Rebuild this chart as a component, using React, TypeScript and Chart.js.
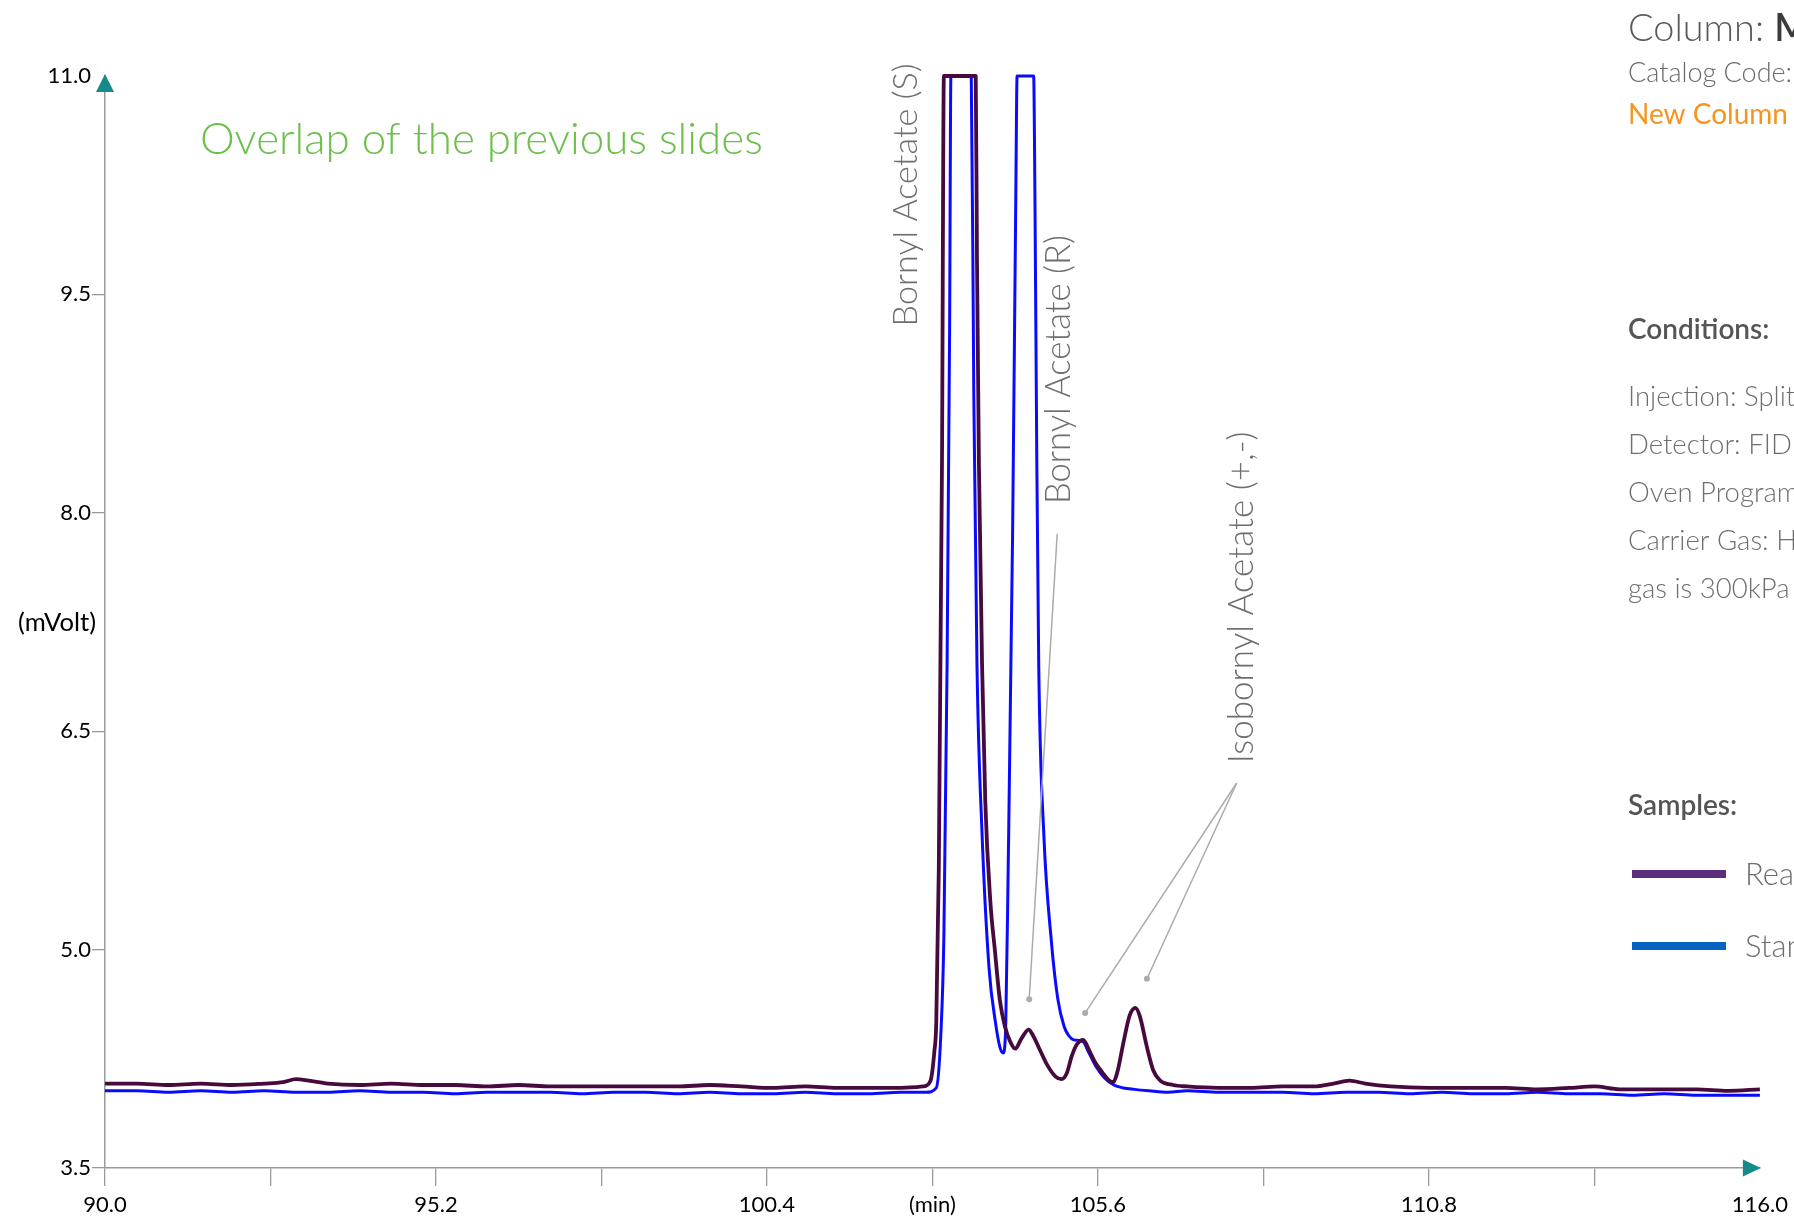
import React, { useEffect, useRef } from "react";
import { Chart, registerables } from "chart.js";

Chart.register(...registerables);

// ---- Data ----
const realTime = [90.0, 90.5, 91.0, 91.5, 92.0, 92.5, 92.8, 93.0, 93.2, 93.5, 94.0, 94.5, 95.0, 95.5, 96.0, 96.5, 97.0, 97.5, 98.0, 98.5, 99.0, 99.5, 100.0, 100.5, 101.0, 101.5, 102.0, 102.5, 102.85, 102.97, 103.03, 103.06, 103.10, 103.15, 103.18, 103.68, 103.70, 103.73, 103.78, 103.83, 103.91, 103.98, 104.06, 104.14, 104.22, 104.30, 104.40, 104.51, 104.58, 104.70, 104.80, 104.93, 105.03, 105.11, 105.19, 105.27, 105.37, 105.45, 105.55, 105.68, 105.78, 105.84, 105.90, 106.0, 106.10, 106.19, 106.26, 106.37, 106.47, 106.58, 106.78, 107.0, 107.5, 108.0, 108.5, 109.0, 109.3, 109.55, 109.8, 110.2, 110.8, 111.5, 112.0, 112.5, 113.0, 113.4, 113.8, 114.5, 115.0, 115.5, 116.0];
const realSignal = [4.08, 4.08, 4.07, 4.08, 4.07, 4.08, 4.09, 4.11, 4.10, 4.08, 4.07, 4.08, 4.07, 4.07, 4.06, 4.07, 4.06, 4.06, 4.06, 4.06, 4.06, 4.07, 4.06, 4.05, 4.06, 4.05, 4.05, 4.05, 4.06, 4.10, 4.30, 4.50, 5.56, 8.34, 11.0, 11.0, 9.73, 8.34, 6.95, 6.02, 5.33, 5.0, 4.65, 4.47, 4.37, 4.32, 4.39, 4.45, 4.41, 4.30, 4.21, 4.13, 4.11, 4.15, 4.27, 4.35, 4.38, 4.32, 4.23, 4.15, 4.10, 4.09, 4.15, 4.36, 4.55, 4.60, 4.54, 4.33, 4.17, 4.10, 4.07, 4.06, 4.05, 4.05, 4.06, 4.06, 4.08, 4.10, 4.08, 4.06, 4.05, 4.05, 4.05, 4.04, 4.05, 4.06, 4.04, 4.04, 4.04, 4.03, 4.04];

const stdTime = [90.0, 90.5, 91.0, 91.5, 92.0, 92.5, 93.0, 93.5, 94.0, 94.5, 95.0, 95.5, 96.0, 96.5, 97.0, 97.5, 98.0, 98.5, 99.0, 99.5, 100.0, 100.5, 101.0, 101.5, 102.0, 102.5, 102.9, 103.06, 103.13, 103.18, 103.23, 103.27, 103.29, 103.61, 103.65, 103.70, 103.78, 103.89, 103.99, 104.06, 104.11, 104.15, 104.19, 104.26, 104.31, 104.33, 104.59, 104.61, 104.64, 104.67, 104.75, 104.87, 104.97, 105.07, 105.14, 105.22, 105.36, 105.46, 105.58, 105.70, 105.85, 106.0, 106.17, 106.4, 106.7, 107.0, 107.5, 108.0, 108.5, 109.0, 109.5, 110.0, 110.5, 111.0, 111.5, 112.0, 112.5, 113.0, 113.5, 114.0, 114.5, 115.0, 115.5, 116.0];
const stdSignal = [4.03, 4.03, 4.02, 4.03, 4.02, 4.03, 4.02, 4.02, 4.03, 4.02, 4.02, 4.01, 4.02, 4.02, 4.02, 4.01, 4.02, 4.02, 4.01, 4.02, 4.01, 4.01, 4.02, 4.01, 4.01, 4.02, 4.02, 4.05, 4.40, 5.10, 6.95, 9.27, 11.0, 11.0, 8.80, 6.95, 5.79, 4.87, 4.50, 4.33, 4.29, 4.45, 5.56, 7.88, 10.19, 11.0, 11.0, 10.19, 8.34, 6.95, 5.79, 5.05, 4.66, 4.47, 4.41, 4.38, 4.37, 4.29, 4.19, 4.12, 4.07, 4.05, 4.04, 4.03, 4.02, 4.03, 4.02, 4.02, 4.02, 4.01, 4.02, 4.02, 4.01, 4.02, 4.01, 4.01, 4.02, 4.01, 4.01, 4.00, 4.01, 4.00, 4.00, 4.00];

const xTickValues = [90.0, 92.6, 95.2, 97.8, 100.4, 103.0, 105.6, 108.2, 110.8, 113.4, 116.0];
const xTickLabels = ["90.0", "", "95.2", "", "100.4", "(min)", "105.6", "", "110.8", "", "116.0"];
const yTickValues = [3.5, 5.0, 6.5, 8.0, 9.5, 11.0];
const yTickLabels = ["3.5", "5.0", "6.5", "8.0", "9.5", "11.0"];

const seriesNames = ["Real sample", "Standard"];

// Peak labels (rotated), anchored at (time, mV) of the text start
const peakLabelText = ["Bornyl Acetate (S)", "Bornyl Acetate (R)", "Isobornyl Acetate (+,-)"];
const peakLabelTime = [102.75, 105.16, 108.04];
const peakLabelValue = [9.28, 8.06, 6.28];

// Leader lines: from (startTime,startValue) to (endTime,endValue)
const leaderStartTime = [104.96, 107.78, 107.78];
const leaderStartValue = [7.855, 6.144, 6.144];
const leaderEndTime = [104.52, 105.40, 106.37];
const leaderEndValue = [4.659, 4.565, 4.80];

const titleText = "Overlap of the previous slides";
const conditionLines = [
  "Injection: Split 1:50",
  "Detector: FID",
  "Oven Program: 40\u00b0C",
  "Carrier Gas: Hydrogen",
  "gas is 300kPa",
];

const W = 1794;
const H = 1221;
const FONT = "Lato, 'Open Sans', sans-serif";

function fitFont(ctx: CanvasRenderingContext2D, text: string, weight: string, target: number) {
  ctx.font = `${weight} 100px ${FONT}`;
  const w = ctx.measureText(text).width;
  return (100 * target) / w;
}

const overlayPlugin = {
  id: "overlay",
  afterDraw(chart: any) {
    const ctx: CanvasRenderingContext2D = chart.ctx;
    const xs = chart.scales.x;
    const ys = chart.scales.y;
    const area = chart.chartArea;
    ctx.save();

    // axis arrows
    ctx.fillStyle = "#168a8a";
    ctx.beginPath();
    ctx.moveTo(area.left, area.top - 2);
    ctx.lineTo(area.left - 9, area.top + 16);
    ctx.lineTo(area.left + 9, area.top + 16);
    ctx.closePath();
    ctx.fill();
    ctx.beginPath();
    ctx.moveTo(area.right + 1, area.bottom);
    ctx.lineTo(area.right - 17, area.bottom - 8.5);
    ctx.lineTo(area.right - 17, area.bottom + 8.5);
    ctx.closePath();
    ctx.fill();

    // leader lines
    ctx.strokeStyle = "#ababab";
    ctx.fillStyle = "#ababab";
    ctx.lineWidth = 1.5;
    for (let i = 0; i < leaderStartTime.length; i++) {
      const x0 = xs.getPixelForValue(leaderStartTime[i]);
      const y0 = ys.getPixelForValue(leaderStartValue[i]);
      const x1 = xs.getPixelForValue(leaderEndTime[i]);
      const y1 = ys.getPixelForValue(leaderEndValue[i]);
      ctx.beginPath();
      ctx.moveTo(x0, y0);
      ctx.lineTo(x1, y1);
      ctx.stroke();
      ctx.beginPath();
      ctx.arc(x1, y1, 3, 0, Math.PI * 2);
      ctx.fill();
    }

    // rotated peak labels
    const labelLen = [263, 269, 332];
    for (let i = 0; i < peakLabelText.length; i++) {
      const size = fitFont(ctx, peakLabelText[i], "300", labelLen[i]);
      const px = xs.getPixelForValue(peakLabelTime[i]);
      const py = ys.getPixelForValue(peakLabelValue[i]);
      ctx.save();
      ctx.translate(px, py);
      ctx.rotate(-Math.PI / 2);
      ctx.font = `300 ${size}px ${FONT}`;
      ctx.fillStyle = "#6e6e6e";
      ctx.textAlign = "left";
      ctx.textBaseline = "alphabetic";
      ctx.fillText(peakLabelText[i], 0, 0);
      ctx.restore();
    }

    // title
    const tSize = fitFont(ctx, titleText, "300", 563);
    ctx.font = `300 ${tSize}px ${FONT}`;
    ctx.fillStyle = "#6cbf4a";
    ctx.textAlign = "left";
    ctx.textBaseline = "alphabetic";
    ctx.fillText(titleText, 200, 154);

    // y unit
    const uSize = fitFont(ctx, "(mVolt)", "400", 78);
    ctx.font = `400 ${uSize}px ${FONT}`;
    ctx.fillStyle = "#000";
    ctx.textAlign = "center";
    ctx.textBaseline = "middle";
    ctx.fillText("(mVolt)", 57, 623);

    // right panel
    ctx.textAlign = "left";
    ctx.textBaseline = "alphabetic";
    const px = 1628;
    const cSize = fitFont(ctx, "Column:", "300", 136);
    ctx.font = `300 ${cSize}px ${FONT}`;
    ctx.fillStyle = "#5a5a5a";
    ctx.fillText("Column:", px, 41);
    const cw = ctx.measureText("Column: ").width;
    ctx.font = `600 ${cSize}px ${FONT}`;
    ctx.fillStyle = "#3c3c3c";
    ctx.fillText("MEGA-DEX", px + cw, 41);

    ctx.font = `300 27px ${FONT}`;
    ctx.fillStyle = "#6a6a6a";
    ctx.fillText("Catalog Code: ", px, 82);
    ctx.font = `400 28px ${FONT}`;
    ctx.fillStyle = "#f7941d";
    ctx.fillText("New Column", px, 124);

    ctx.font = `600 28px ${FONT}`;
    ctx.fillStyle = "#555555";
    ctx.fillText("Conditions:", px, 339);
    ctx.font = `300 27.5px ${FONT}`;
    ctx.fillStyle = "#6e6e6e";
    const condY = [406, 454, 502, 550, 598];
    conditionLines.forEach((t, i) => ctx.fillText(t, px, condY[i]));

    ctx.font = `600 28px ${FONT}`;
    ctx.fillStyle = "#555555";
    ctx.fillText("Samples:", px, 815);

    const legColors = ["#5c2d7a", "#0563c1"];
    const legY = [874, 946];
    seriesNames.forEach((name, i) => {
      ctx.fillStyle = legColors[i];
      ctx.fillRect(1632, legY[i] - 4, 94, 8);
      ctx.font = `300 31px ${FONT}`;
      ctx.fillStyle = "#6e6e6e";
      ctx.fillText(name, 1745, legY[i] + 11);
    });

    ctx.restore();
  },
};

export default function App() {
  const canvasRef = useRef<HTMLCanvasElement | null>(null);

  useEffect(() => {
    document.body.style.margin = "0";
    document.body.style.overflow = "hidden";
    const canvas = canvasRef.current;
    if (!canvas) return;
    const axisGray = "#9a9a9a";
    const chart = new Chart(canvas, {
      type: "line",
      data: {
        datasets: [
          {
            label: seriesNames[0],
            data: realTime.map((t, i) => ({ x: t, y: realSignal[i] })),
            borderColor: "#470a3e",
            borderWidth: 3.8,
            borderJoinStyle: "round",
            pointRadius: 0,
            cubicInterpolationMode: "monotone",
            clip: 8,
          },
          {
            label: seriesNames[1],
            data: stdTime.map((t, i) => ({ x: t, y: stdSignal[i] })),
            borderColor: "#0a0aff",
            borderWidth: 3,
            borderJoinStyle: "round",
            pointRadius: 0,
            cubicInterpolationMode: "monotone",
            clip: 8,
          },
        ],
      } as any,
      options: {
        animation: false,
        responsive: false,
        devicePixelRatio: 1,
        layout: { padding: { top: 76, right: 34, left: 0, bottom: 0 } },
        plugins: { legend: { display: false }, tooltip: { enabled: false } },
        scales: {
          x: {
            type: "linear",
            min: 90,
            max: 116,
            afterBuildTicks: (s: any) => {
              s.ticks = xTickValues.map((v) => ({ value: v }));
            },
            afterFit: (s: any) => {
              s.height = 53;
            },
            ticks: {
              autoSkip: false,
              maxRotation: 0,
              padding: 6,
              color: "#000",
              font: { family: FONT, size: 22 },
              callback: (_v: any, i: number) => xTickLabels[i],
            },
            grid: {
              drawOnChartArea: false,
              tickLength: 18,
              lineWidth: 1.3,
              color: (c: any) => (c.tick && c.tick.value === 116 ? "rgba(0,0,0,0)" : axisGray),
            },
            border: { display: true, color: axisGray, width: 1.5 },
          },
          y: {
            type: "linear",
            min: 3.5,
            max: 11,
            afterBuildTicks: (s: any) => {
              s.ticks = yTickValues.map((v) => ({ value: v }));
            },
            afterFit: (s: any) => {
              s.width = 105;
            },
            ticks: {
              autoSkip: false,
              padding: 1,
              color: "#000",
              font: { family: FONT, size: 22 },
              callback: (_v: any, i: number) => yTickLabels[i],
            },
            grid: {
              drawOnChartArea: false,
              tickLength: 13,
              lineWidth: 1.3,
              color: (c: any) => (c.tick && c.tick.value === 11 ? "rgba(0,0,0,0)" : axisGray),
            },
            border: { display: true, color: axisGray, width: 1.5 },
          },
        },
      } as any,
      plugins: [overlayPlugin],
    });
    return () => chart.destroy();
  }, []);

  return (
    <div style={{ width: W, height: H, overflow: "hidden", background: "#fff" }}>
      <canvas ref={canvasRef} width={W} height={H} style={{ display: "block", width: W, height: H }} />
    </div>
  );
}
